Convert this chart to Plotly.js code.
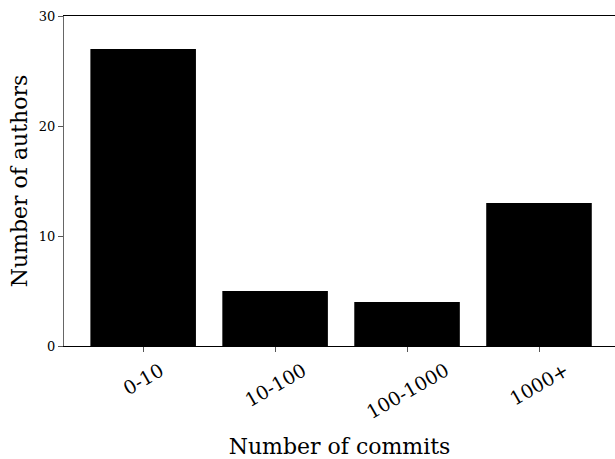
<!DOCTYPE html>
<html>
<head>
<meta charset="utf-8">
<script src="https://cdn.plot.ly/plotly-3.0.1.min.js"></script>
<style>html,body{margin:0;padding:0;background:#fff;}#chart{width:615px;height:459px;}</style>
</head>
<body>
<div id="chart"></div>
<script>
var categories = ["0-10", "10-100", "100-1000", "1000+"];
var authors = [27, 5, 4, 13];
var yTicks = [0, 10, 20, 30];

var font = "DejaVu Serif, serif";
var trace = {
  type: "bar",
  x: categories,
  y: authors,
  marker: {color: "#000000", line: {width: 0}},
  width: 0.8,
  hoverinfo: "none"
};
var tickAnnotations = categories.map(function (c) {
  return {
    x: c, xref: "x", y: 0, yref: "paper",
    text: c, showarrow: false, textangle: -30,
    xanchor: "center", yanchor: "top", yshift: -10,
    font: {family: font, size: 19, color: "#000"}
  };
});
var layout = {
  width: 615, height: 459,
  margin: {l: 64, r: 0, t: 16, b: 113},
  paper_bgcolor: "#fff", plot_bgcolor: "#fff",
  font: {family: font, color: "#000"},
  showlegend: false,
  annotations: tickAnnotations,
  xaxis: {
    type: "category",
    range: [-0.6, 3.576],
    showgrid: false, zeroline: false,
    showline: true, linecolor: "#000", linewidth: 1, mirror: true,
    ticks: "outside", ticklen: 5, tickcolor: "#555", tickwidth: 1,
    showticklabels: false,
    title: {text: "Number of commits", font: {family: font, size: 22, color: "#000"}, standoff: 90}
  },
  yaxis: {
    range: [0, 30],
    tickvals: yTicks,
    showgrid: false, zeroline: false,
    showline: true, linecolor: "#666", linewidth: 1,
    ticks: "outside", ticklen: 5, tickcolor: "#555", tickwidth: 1,
    tickfont: {family: font, size: 13, color: "#000"},
    title: {text: "Number of authors", font: {family: font, size: 22, color: "#000"}, standoff: 5}
  }
};
Plotly.newPlot("chart", [trace], layout, {staticPlot: true, displayModeBar: false});
</script>
</body>
</html>
